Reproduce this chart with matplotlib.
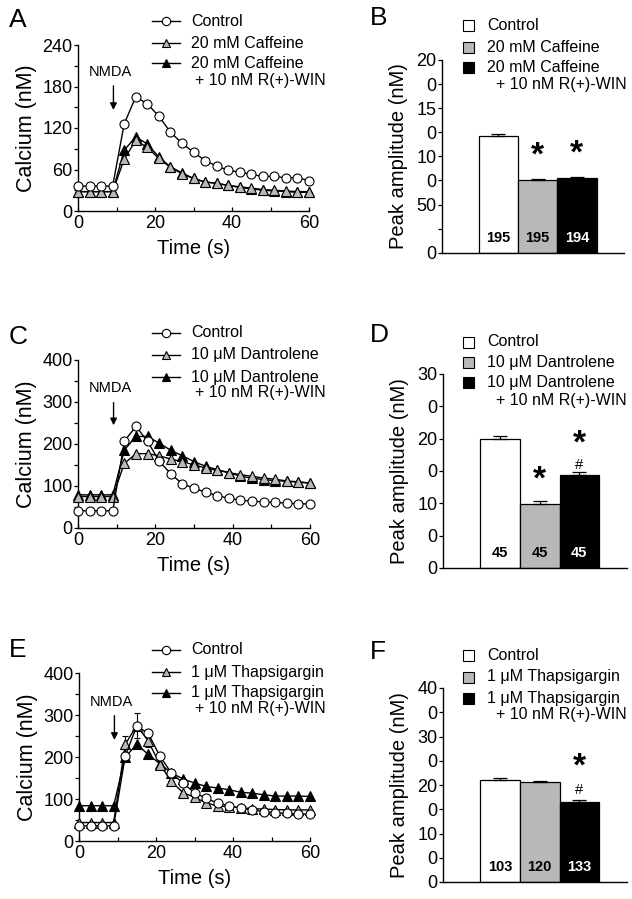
import matplotlib
matplotlib.use("Agg")
import matplotlib.pyplot as plt
from matplotlib.ticker import MultipleLocator
from matplotlib.lines import Line2D
from matplotlib.patches import Rectangle

plt.rcParams['font.family'] = ['Liberation Sans', 'DejaVu Sans']
plt.rcParams['mathtext.fontset'] = 'custom'
plt.rcParams['mathtext.rm'] = 'Liberation Sans'
plt.rcParams['mathtext.bf'] = 'Liberation Sans:bold'

# ---------------- data ----------------
time_s = [0, 3, 6, 9, 12, 15, 18, 21, 24, 27, 30, 33, 36, 39, 42, 45, 48, 51, 54, 57, 60]

# Panel A
a_control = [36, 36, 36, 36, 126, 165, 155, 137, 114, 98, 85, 73, 65, 59, 56, 53, 50, 50, 48, 48, 44]
a_caffeine = [28, 28, 28, 28, 75, 102, 92, 76, 63, 54, 47, 42, 40, 37, 35, 33, 31, 30, 29, 28, 28]
a_caff_win = [28, 28, 28, 28, 88, 107, 97, 78, 64, 55, 47, 42, 40, 37, 34, 32, 30, 29, 28, 27, 27]
a_labels = ["Control", "20 mM Caffeine", "20 mM Caffeine", "+ 10 nM R(+)-WIN"]

# Panel C
c_control = [41, 41, 41, 41, 207, 242, 206, 159, 129, 105, 95, 85, 77, 71, 66, 64, 62, 61, 59, 58, 57]
c_dantrolene = [75, 75, 75, 75, 154, 177, 177, 172, 164, 158, 150, 143, 137, 132, 127, 123, 119, 116, 112, 110, 107]
c_dant_win = [79, 79, 79, 79, 186, 218, 218, 202, 185, 172, 158, 147, 139, 132, 123, 119, 115, 113, 111, 109, 107]
c_labels = ["Control", "10 \u03bcM Dantrolene", "10 \u03bcM Dantrolene", "+ 10 nM R(+)-WIN"]

# Panel E
e_control = [36, 36, 36, 36, 202, 274, 256, 202, 162, 138, 115, 102, 90, 84, 78, 74, 70, 67, 66, 64, 64]
e_thaps = [44, 44, 44, 44, 230, 275, 238, 182, 142, 115, 104, 91, 83, 82, 79, 77, 76, 75, 74, 74, 74]
e_thaps_err = [0, 0, 0, 0, 20, 30, 15, 0, 0, 0, 0, 0, 0, 0, 0, 0, 0, 0, 0, 0, 0]
e_thaps_win = [84, 84, 84, 84, 200, 230, 206, 184, 162, 148, 138, 130, 126, 122, 116, 114, 110, 107, 107, 107, 106]
e_labels = ["Control", "1 \u03bcM Thapsigargin", "1 \u03bcM Thapsigargin", "+ 10 nM R(+)-WIN"]

# Panel B
b_values = [121, 75.5, 78]
b_errors = [2.5, 0.8, 1.0]
b_n = ["195", "195", "194"]
b_sig = ["", "*", "*"]
b_hash = ["", "", ""]
b_ticks = [0, 25, 50, 75, 100, 125, 150, 175, 200]
b_ticklabels = ["0", "", "50", "0", "10", "0", "15", "0", "20"]
b_labels = ["Control", "20 mM Caffeine", "20 mM Caffeine", "+ 10 nM R(+)-WIN"]

# Panel D
d_values = [199, 99, 144]
d_errors = [5, 4, 5]
d_n = ["45", "45", "45"]
d_sig = ["", "*", "*"]
d_hash = ["", "", "#"]
d_ticks = [0, 50, 100, 150, 200, 250, 300]
d_ticklabels = ["0", "0", "10", "0", "20", "0", "30"]
d_labels = ["Control", "10 \u03bcM Dantrolene", "10 \u03bcM Dantrolene", "+ 10 nM R(+)-WIN"]

# Panel F
f_values = [210, 206, 165]
f_errors = [5, 2, 4]
f_n = ["103", "120", "133"]
f_sig = ["", "", "*"]
f_hash = ["", "", "#"]
f_ticks = [0, 50, 100, 150, 200, 250, 300, 350, 400]
f_ticklabels = ["0", "0", "10", "0", "20", "0", "30", "0", "40"]
f_labels = ["Control", "1 \u03bcM Thapsigargin", "1 \u03bcM Thapsigargin", "+ 10 nM R(+)-WIN"]

GREY = "#b8b8b8"
W, H = 632, 899
fig = plt.figure(figsize=(W / 100, H / 100), dpi=100)
PT = 0.72  # points per pixel at 100 dpi


def fy(py):
    return 1 - py / H


def fx(px):
    return px / W


def ax_px(left, top, right, bottom):
    return fig.add_axes([left / W, 1 - bottom / H, (right - left) / W, (bottom - top) / H])


def line_panel(rect, ctrl, s2, s3, labels, ymax, ystep, letter, letter_y, rows, nmda, s2err=None):
    ax = ax_px(*rect)
    ax.plot(time_s, s3, color="black", lw=1.0, marker="^", ms=6.5, mfc="black",
            mec="black", mew=0.8, zorder=3, clip_on=False)
    if s2err is not None:
        ax.errorbar(time_s, s2, yerr=s2err, fmt="none", ecolor="black", elinewidth=0.8,
                    capsize=2.5, capthick=0.8, zorder=4)
    ax.plot(time_s, s2, color="black", lw=1.0, marker="^", ms=6.5, mfc=GREY,
            mec="black", mew=0.8, zorder=4, clip_on=False)
    ax.plot(time_s, ctrl, color="black", lw=1.0, marker="o", ms=6.5, mfc="white",
            mec="black", mew=0.8, zorder=5, clip_on=False)
    ax.set_xlim(0, 60)
    ax.set_ylim(0, ymax)
    ax.set_xticks([0, 20, 40, 60])
    ax.xaxis.set_minor_locator(MultipleLocator(10))
    ax.set_yticks(range(0, ymax + 1, ystep))
    ax.yaxis.set_minor_locator(MultipleLocator(ystep / 2))
    for s in ["top", "right"]:
        ax.spines[s].set_visible(False)
    for s in ["left", "bottom"]:
        ax.spines[s].set_linewidth(1.0)
    ax.tick_params(axis="y", which="both", direction="out", length=3, width=0.9,
                   labelsize=13, pad=1)
    ax.tick_params(axis="x", which="both", direction="in", length=3, width=0.9,
                   labelsize=13, pad=3)
    ax.set_xlabel("Time (s)", fontsize=14.5, labelpad=5)
    ax.set_ylabel("Calcium (nM)", fontsize=15.5, labelpad=4)
    fig.text(fx(9), fy(letter_y), letter, fontsize=19, ha="left", va="center")
    styles = [("o", "white"), ("^", GREY), ("^", "black")]
    for i, (mk, fc) in enumerate(styles):
        y = fy(rows[i])
        fig.add_artist(Line2D([fx(152), fx(180)], [y, y], color="black", lw=1.0,
                              transform=fig.transFigure))
        fig.add_artist(Line2D([fx(166)], [y], marker=mk, ms=6, mfc=fc, mec="black",
                              mew=0.8, transform=fig.transFigure))
        fig.text(fx(191), y, labels[i], fontsize=11.5, ha="left", va="center")
    fig.text(fx(195), fy(rows[3]), labels[3], fontsize=11.5, ha="left", va="center")
    ax.annotate("", xy=(9.2, nmda[2]), xytext=(9.2, nmda[1]),
                arrowprops=dict(arrowstyle="-|>", color="black", lw=1.0,
                                mutation_scale=10), annotation_clip=False)
    ax.text(8.3, nmda[0], "NMDA", fontsize=10.5, ha="center", va="center")
    return ax


def bar_panel(rect, values, errors, ns, sig, hashes, ticks, ticklabels, letter, letter_y,
              labels, rows, star_px, hash_px):
    ax = ax_px(*rect)
    xs = [1, 2, 3]
    colors = ["white", GREY, "black"]
    ax.bar(xs, values, width=1.0, color=colors, edgecolor="black", linewidth=0.9, zorder=2)
    ax.errorbar(xs, values, yerr=[[0, 0, 0], errors], fmt="none", ecolor="black",
                elinewidth=0.9, capsize=5, capthick=0.9, zorder=3)
    ymax = ticks[-1]
    ax.set_ylim(0, ymax)
    ax.set_xlim(-0.44, 4.2)
    ax.set_yticks(ticks)
    ax.set_yticklabels(ticklabels)
    ax.set_xticks([])
    for s in ["top", "right"]:
        ax.spines[s].set_visible(False)
    for s in ["left", "bottom"]:
        ax.spines[s].set_linewidth(1.0)
    ax.tick_params(axis="y", direction="out", length=3, width=0.9, labelsize=13, pad=1)
    ax.set_ylabel("Peak amplitude (nM)", fontsize=14.5, labelpad=6)
    tcolors = ["black", "black", "white"]
    for x, n, tc in zip(xs, ns, tcolors):
        ax.text(x, ymax * 0.078, n, ha="center", va="center", fontsize=10.5,
                fontweight="bold", color=tc)
    for i, (x, v, e, s, h) in enumerate(zip(xs, values, errors, sig, hashes)):
        top = v + e
        if h:
            ax.annotate(r"$\#$", xy=(x, top), xytext=(0, hash_px * PT),
                        textcoords="offset points", ha="center", va="center", fontsize=10.5)
        if s:
            ax.annotate(r"$\mathbf{" + s + "}$", xy=(x, top), xytext=(0, star_px[i] * PT),
                        textcoords="offset points", ha="center", va="center",
                        fontsize=24)
    fig.text(fx(370), fy(letter_y), letter, fontsize=19, ha="left", va="center")
    cols = ["white", GREY, "black"]
    for i, c in enumerate(cols):
        y = fy(rows[i])
        fig.add_artist(Rectangle((fx(463), y - 5.5 / H), 11 / W, 11 / H,
                                 facecolor=c, edgecolor="black", lw=0.8,
                                 transform=fig.transFigure))
        fig.text(fx(487), y, labels[i], fontsize=11.5, ha="left", va="center")
    fig.text(fx(496), fy(rows[3]), labels[3], fontsize=11.5, ha="left", va="center")
    return ax


line_panel((78, 45, 309, 211), a_control, a_caffeine, a_caff_win, a_labels, 240, 60, "A",
           20, (21, 43, 63, 81), (201, 185, 142))
line_panel((78, 360, 310, 528), c_control, c_dantrolene, c_dant_win, c_labels, 400, 100, "C",
           337, (333, 355, 377, 393), (333, 305, 238))
line_panel((79, 673, 310, 841), e_control, e_thaps, e_thaps_win, e_labels, 400, 100, "E",
           650, (650, 672, 693, 709), (331, 305, 234), s2err=e_thaps_err)

bar_panel((442, 60, 624, 252.7), b_values, b_errors, b_n, b_sig, b_hash, b_ticks,
          b_ticklabels, "B", 18, b_labels, (25, 47, 67, 84), (0, 24, 24), 0)
bar_panel((443, 374, 627, 568), d_values, d_errors, d_n, d_sig, d_hash, d_ticks,
          d_ticklabels, "D", 335, d_labels, (342, 362, 383, 400), (0, 22, 29), 7)
bar_panel((443, 688, 627, 882), f_values, f_errors, f_n, f_sig, f_hash, f_ticks,
          f_ticklabels, "F", 652, f_labels, (655, 677, 698, 714), (0, 0, 34), 10)

fig.savefig("out.png", dpi=100)
